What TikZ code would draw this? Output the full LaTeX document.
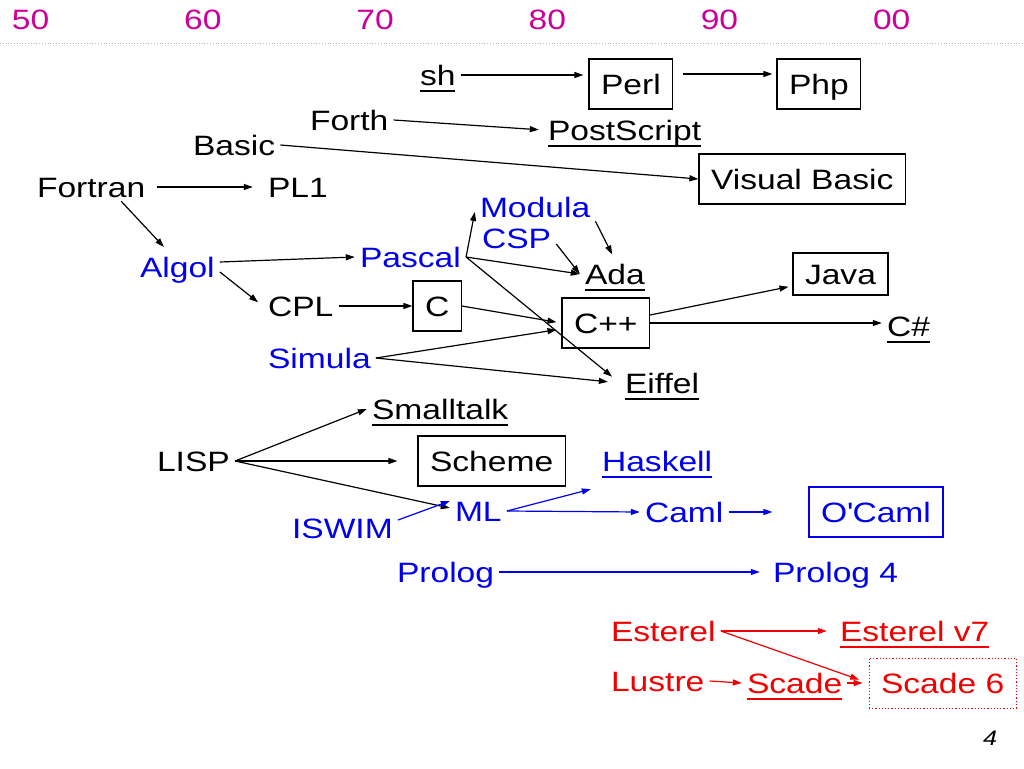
\documentclass[tikz,border=0pt]{standalone}
\usepackage{fontspec}
\setmainfont{Liberation Sans}[FakeStretch=1.2]
\usepackage{xcolor}
\definecolor{langblue}{RGB}{0, 0, 235}
\definecolor{langred}{RGB}{240, 0, 0}
\definecolor{yearmag}{RGB}{204, 0, 153}
\usepackage{tikz}
\usetikzlibrary{arrows.meta}
\newcommand{\ulin}[1]{\setbox0=\hbox{#1}\rlap{\copy0}\rule[-7pt]{\wd0}{2.5pt}}

\begin{document}
\begin{tikzpicture}[x=1pt, y=-1pt,
    font=\fontsize{28}{30}\selectfont,
    lang/.style={anchor=text, inner xsep=5pt, inner ysep=4pt, text height=20pt, text depth=0pt},
    boxed/.style={lang, draw, line width=1.2pt, inner xsep=12pt, inner ysep=15pt},
    year/.style={anchor=text, text=yearmag},
    link/.style={line width=1.2pt, -{Triangle[length=9pt, width=6pt]}}]
      \useasboundingbox (0,0) rectangle (1024,768);

      % decades
      \foreach \yr [count=\i from 0] in {50,60,70,80,90,00}
        \node[year] (Y\yr) at (12+172.2*\i, 30) {\yr};
      \draw[gray!60, dotted, line width=0.8pt] (0,43) -- (1024,43);

      % black family
      \node[lang] (sh) at (420,85) {\ulin{sh}};
      \node[boxed] (Perl) at (601,94) {Perl};
      \node[boxed] (Php) at (789,94) {Php};
      \node[lang] (Forth) at (310,130) {Forth};
      \node[lang] (PostScript) at (548,140) {\ulin{PostScript}};
      \node[lang] (Basic) at (193,155) {Basic};
      \node[boxed] (VBasic) at (711,189) {Visual Basic};
      \node[lang] (Fortran) at (37,197) {Fortran};
      \node[lang] (PL1) at (268,197) {PL1};
      \node[lang] (CPL) at (268,316) {CPL};
      \node[boxed] (C) at (425,316) {C};
      \node[boxed] (Cpp) at (574,333) {C++};
      \node[lang] (Ada) at (585,284) {\ulin{Ada}};
      \node[boxed, inner ysep=11pt] (Java) at (805,284) {Java};
      \node[lang] (CSharp) at (887,336) {\ulin{C\#}};
      \node[lang] (Eiffel) at (625,393) {\ulin{Eiffel}};
      \node[lang] (Smalltalk) at (372,419) {\ulin{Smalltalk}};
      \node[lang] (LISP) at (157,471) {LISP};
      \node[boxed] (Scheme) at (430,471) {Scheme};

      % blue family
      \node[lang, text=langblue] (Algol) at (140,277) {Algol};
      \node[lang, text=langblue] (Pascal) at (360,267) {Pascal};
      \node[lang, text=langblue] (Modula) at (480,217) {Modula};
      \node[lang, text=langblue] (CSP) at (482,248) {CSP};
      \node[lang, text=langblue] (Simula) at (268,368) {Simula};
      \node[lang, text=langblue] (Haskell) at (602,471) {\ulin{Haskell}};
      \node[lang, text=langblue] (ML) at (455,521) {ML};
      \node[lang, text=langblue] (Caml) at (645,522) {Caml};
      \node[boxed, draw=langblue, text=langblue] (OCaml) at (821,522) {O\textquotesingle Caml};
      \node[lang, text=langblue] (ISWIM) at (292,538) {ISWIM};
      \node[lang, text=langblue] (Prolog) at (397,582) {Prolog};
      \node[lang, text=langblue] (Prolog4) at (773,582) {Prolog 4};

      % red family
      \node[lang, text=langred] (Esterel) at (611,641) {Esterel};
      \node[lang, text=langred] (EsterelV) at (840,641) {\ulin{Esterel v7}};
      \node[lang, text=langred] (Lustre) at (611,691) {Lustre};
      \node[lang, text=langred] (Scade) at (747,693) {\ulin{Scade}};
      \node[boxed, draw=langred, text=langred, dotted, line width=0.8pt] (Scade6) at (881,693) {Scade 6};

      \node[anchor=text, font=\fontsize{21}{21}\selectfont\itshape] (page) at (983,745) {4};

      % links
      \draw[link, shorten >=5pt] (sh.east) -- (sh.east -| Perl.west);
      \draw[link, shorten <=10pt, shorten >=4pt] ([yshift=10pt]Perl.east) -- ([yshift=10pt]Php.west);
      \draw[link, shorten >=4pt] (Forth.east) -- (PostScript.west);
      \draw[link] (Basic.east) -- (VBasic.west);
      \draw[link, shorten <=6pt, shorten >=10pt] (Fortran.east) -- (PL1.west);
      \draw[link, shorten >=8pt] ([xshift=30pt]Fortran.south) -- ([xshift=-8pt]Algol.north);
      \draw[link] ([yshift=5pt]Algol.east) -- (Pascal.west);
      \draw[link, shorten >=6pt] ([yshift=-5pt]Algol.east) -- (CPL.west);
      \draw[link] (Pascal.east) -- ([yshift=-5pt]Modula.west);
      \draw[link] (Pascal.east) -- (Ada.west);
      \draw[link, shorten >=10pt] (Pascal.east) -- (Eiffel.west);
      \draw[link, shorten >=6pt] (Modula.south east) -- (Ada.north);
      \draw[link] ([yshift=-6pt]CSP.east) -- (Ada.west);
      \draw[link] (CPL.east) -- (C.west);
      \draw[link, shorten >=5pt] (C.east) -- (Cpp.west);
      \draw[link, shorten >=5pt] (Simula.east) -- ([yshift=-6pt]Cpp.west);
      \draw[link, shorten >=12pt] (Simula.east) -- (Eiffel.west);
      \draw[link, shorten >=4pt] ([yshift=8pt]Cpp.east) -- ([yshift=-12pt]Java.west);
      \draw[link] (Cpp.east) -- (Cpp.east -| CSharp.west);
      \draw[link] (LISP.east) -- (Smalltalk.west);
      \draw[link, shorten >=20pt] (LISP.east) -- (Scheme.west);
      \draw[link] (LISP.east) -- ([yshift=3pt]ML.west);

      \begin{scope}[langblue]
      \draw[link] ([yshift=8pt]ISWIM.east) -- ([yshift=10pt]ML.west);
      \draw[link] (ML.east) -- ([xshift=-6pt, yshift=-14pt]Haskell.south west);
      \draw[link] (ML.east) -- (Caml.west);
      \draw[link, shorten >=36pt] (Caml.east) -- (OCaml.west);
      \draw[link, shorten >=8pt] (Prolog.east) -- (Prolog4.west);
      \end{scope}

      \begin{scope}[langred]
      \draw[link, shorten >=8pt] (Esterel.east) -- (EsterelV.west);
      \draw[link, shorten >=10pt] (Esterel.east) -- (Scade6.west);
      \draw[link] (Lustre.east) -- (Scade.west);
      \draw[link, shorten >=6pt] (Scade.east) -- (Scade6.west);
      \end{scope}
    \end{tikzpicture}
\end{document}
